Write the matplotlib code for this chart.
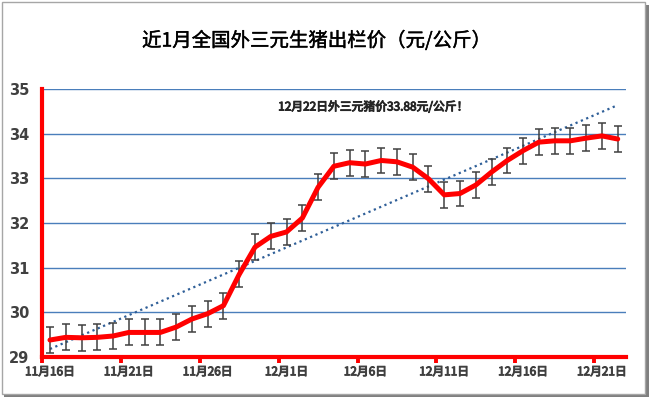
#!/usr/bin/python3
# -*- coding: utf-8 -*-

import numpy as np
import matplotlib
matplotlib.use('Agg')
import matplotlib.pyplot as plt
import matplotlib.patheffects as pe
from matplotlib.patches import Rectangle

plt.rcParams['font.family'] = ['Noto Sans CJK SC', 'DejaVu Sans']

# 11/16 .. 12/22, one value per day
prices = [29.38, 29.44, 29.43, 29.44, 29.47, 29.55, 29.55, 29.55, 29.67, 29.85,
          29.97, 30.15, 30.85, 31.46, 31.70, 31.80, 32.11, 32.80, 33.27, 33.35,
          33.32, 33.40, 33.37, 33.25, 32.99, 32.63, 32.66, 32.85, 33.14, 33.40,
          33.62, 33.81, 33.84, 33.84, 33.90, 33.95, 33.88]
std_err = 0.29
tick_labels = ['11月16日', '11月21日', '11月26日', '12月1日',
               '12月6日', '12月11日', '12月16日', '12月21日']
title = '近1月全国外三元生猪出栏价（元/公斤）'
note = '12月22日外三元猪价33.88元/公斤！'

RED = '#FF0000'
GRID = '#4A7EBB'
TXT = '#404040'


def fake_bold(color, w=0.6):
    # the CJK font only ships one weight here, so thicken it with a stroke
    return [pe.withStroke(linewidth=w, foreground=color)]


def draw():
    fig = plt.figure(figsize=(6.5, 3.98), dpi=100)
    W, H = 650, 398

    # chart frame with shadow
    fig.patches.append(Rectangle((4 / W, 1 / H), 645 / W, 392 / H, transform=fig.transFigure,
                                 facecolor='#7F7F7F', edgecolor='none', zorder=0))
    fig.patches.append(Rectangle((2 / W, 4 / H), 643 / W, 392 / H, transform=fig.transFigure,
                                 facecolor='white', edgecolor='#A6A6A6', linewidth=1, zorder=1))

    ax = fig.add_axes([42.1 / W, 1 - 357 / H, (625.6 - 42.1) / W, (357 - 89) / H])
    ax.set_facecolor('none')
    ax.set_zorder(2)

    x = np.arange(len(prices))
    y = np.array(prices)

    ax.set_xlim(-0.5, len(prices) - 0.5)
    ax.set_ylim(29, 35)

    for v in range(30, 36):
        ax.axhline(v, color=GRID, linewidth=1, zorder=1)

    # linear trend line
    k, b = np.polyfit(x, y, 1)
    ax.plot(x, k * x + b, color='#2F5F98', linewidth=1.6,
            linestyle=(0, (1, 1.6)), zorder=2)

    ax.errorbar(x, y, yerr=std_err, fmt='none', ecolor=TXT, elinewidth=1.1,
                capsize=3, capthick=1.1, zorder=3)
    ax.plot(x, y, color=RED, linewidth=3.6, solid_joinstyle='round',
            solid_capstyle='round', zorder=4)

    for s in ['top', 'right']:
        ax.spines[s].set_visible(False)
    for s in ['left', 'bottom']:
        ax.spines[s].set_color(RED)
        ax.spines[s].set_linewidth(3)
        ax.spines[s].set_zorder(5)

    ax.set_yticks(range(29, 36))
    ax.set_yticklabels([str(v) for v in range(29, 36)], family='DejaVu Sans',
                       fontweight='bold', fontsize=10.5, color=TXT)
    ax.tick_params(axis='y', length=0, pad=9)

    ax.set_xticks(np.arange(-0.5, len(prices), 5))
    ax.set_xticklabels([])
    ax.tick_params(axis='x', which='major', length=4, width=2.8, color=RED, direction='out')
    ax.set_xticks(np.arange(0, len(prices), 5), minor=True)
    ax.set_xticklabels(tick_labels, minor=True, fontsize=8.5, color=TXT,
                       path_effects=fake_bold(TXT, 0.7))
    ax.tick_params(axis='x', which='minor', length=0, pad=6)

    fig.text(317 / W, 1 - 41 / H, title, fontsize=14, ha='center', va='center',
             color='black', zorder=3, path_effects=fake_bold('black', 0.3))
    fig.text(373 / W, 1 - 107 / H, note, fontsize=8.5, ha='center', va='center',
             color='#262626', zorder=3, path_effects=fake_bold('#262626', 0.7))

    fig.savefig('out.png', dpi=100)


def main():
    draw()


if __name__ == '__main__':
    main()
